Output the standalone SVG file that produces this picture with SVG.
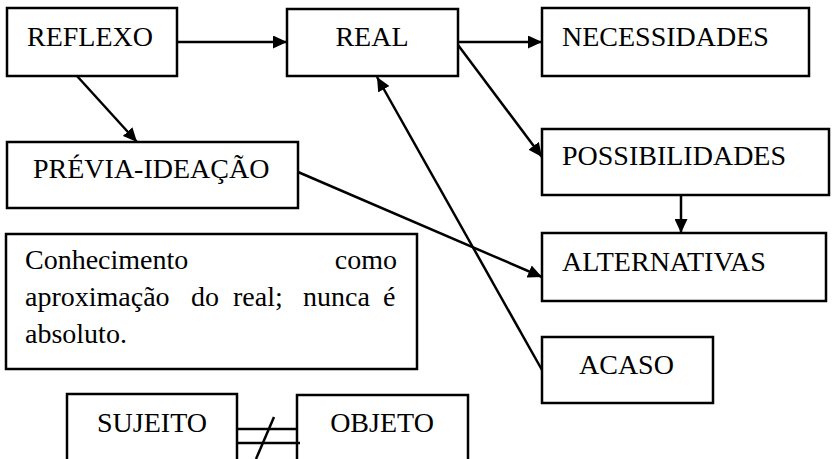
<svg xmlns="http://www.w3.org/2000/svg" width="833" height="459" viewBox="0 0 833 459">
<defs>
<marker id="ah" viewBox="0 0 14 13" refX="14" refY="6.5" markerWidth="14" markerHeight="13" markerUnits="userSpaceOnUse" orient="auto">
<path d="M0,0 L14,6.5 L0,13 Z" fill="#000"/>
</marker>
<style>
.box{fill:#fff;stroke:#000;stroke-width:2.5}
.t{font-family:'Liberation Serif','DejaVu Serif',serif;font-size:28px;fill:#000}
.c{fill:none;stroke:#000;stroke-width:2.5}
.ca{fill:none;stroke:#000;stroke-width:2.5;marker-end:url(#ah)}
</style>
</defs>
<rect width="833" height="459" fill="#fff"/>
<g id="reflexo"><rect class="box" x="7" y="8" width="170" height="68"/><text class="t" x="27" y="46">REFLEXO</text></g>
<g id="real"><rect class="box" x="287" y="9" width="171" height="67"/><text class="t" x="372" y="46" text-anchor="middle">REAL</text></g>
<g id="necessidades"><rect class="box" x="542" y="8" width="267" height="68"/><text class="t" x="562" y="46">NECESSIDADES</text></g>
<g id="possibilidades"><rect class="box" x="542" y="129" width="287" height="66"/><text class="t" x="562" y="165">POSSIBILIDADES</text></g>
<g id="previa"><rect class="box" x="7" y="142" width="291" height="66"/><text class="t" x="33" y="178">PRÉVIA-IDEAÇÃO</text></g>
<g id="alternativas"><rect class="box" x="542" y="233" width="284" height="68"/><text class="t" x="562" y="271">ALTERNATIVAS</text></g>
<g id="acaso"><rect class="box" x="542" y="337" width="171" height="66"/><text class="t" x="579" y="374">ACASO</text></g>
<g id="conhecimento"><rect class="box" x="6" y="234" width="411" height="135"/>
<text class="t" y="269"><tspan x="25">Conhecimento</tspan><tspan x="397" text-anchor="end">como</tspan></text>
<text class="t" y="306"><tspan x="25">aproximação</tspan><tspan x="191">do</tspan><tspan x="233">real;</tspan><tspan x="303">nunca</tspan><tspan x="383">é</tspan></text>
<text class="t" x="25" y="343">absoluto.</text>
</g>
<g id="sujeito"><rect class="box" x="67" y="394" width="170" height="80"/><text class="t" x="152" y="432" text-anchor="middle">SUJEITO</text></g>
<g id="objeto"><rect class="box" x="297" y="395" width="171" height="80"/><text class="t" x="382" y="432" text-anchor="middle">OBJETO</text></g>
<g id="connectors">
<line class="ca" x1="177" y1="42" x2="287" y2="42"/>
<line class="ca" x1="77" y1="76" x2="137" y2="142"/>
<line class="ca" x1="458" y1="42" x2="542" y2="42"/>
<line class="ca" x1="458" y1="45" x2="542" y2="157"/>
<line class="ca" x1="542" y1="370" x2="377" y2="77"/>
<line class="ca" x1="298" y1="172" x2="542" y2="277"/>
<line class="ca" x1="681" y1="195" x2="681" y2="233"/>
<line class="c" x1="237" y1="429" x2="297" y2="429"/>
<line class="c" x1="237" y1="443" x2="300" y2="443"/>
<line class="c" x1="274" y1="417" x2="256" y2="459"/>
</g>
</svg>
